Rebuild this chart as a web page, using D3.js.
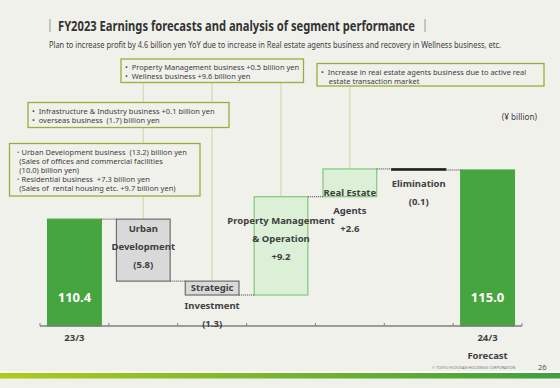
<!DOCTYPE html>
<html>
<head>
  <script src="https://d3js.org/d3.v7.min.js"></script>
  <style>
    html, body { margin: 0; padding: 0; background: #f1f1ec; }
    svg { display: block; font-family: "Noto Sans", sans-serif; }
    .lbl { font-weight: bold; fill: #404040; font-size: 9.5px; text-anchor: middle; }
    .note { fill: #404040; font-size: 7.5px; white-space: pre; }
  </style>
</head>
<body>
<script>
// ---- data ----
const steps = ["23/3", "Urban Development", "Strategic Investment", "Property Management & Operation",
               "Real Estate Agents", "Elimination", "24/3 Forecast"];
const kinds = ["total", "delta", "delta", "delta", "delta", "delta", "total"];
const values = [110.4, -5.8, -1.3, 9.2, 2.6, -0.1, 115.0];
const valueText = ["110.4", "(5.8)", "(1.3)", "+9.2", "+2.6", "(0.1)", "115.0"];
const stepLines = [
  [], ["Urban", "Development"], ["Strategic", "Investment"], ["Property Management", "& Operation"],
  ["Real Estate", "Agents"], ["Elimination"], []
];
const axisLabels = [["23/3"], [], [], [], [], [], ["24/3", "Forecast"]];

const notes = [
  {step: "Urban Development", lines: [
    "・Urban Development business  (13.2) billion yen",
    "   (Sales of offices and commercial facilities",
    "   (10.0) billion yen)",
    "・Residential business  +7.3 billion yen",
    "   (Sales of  rental housing etc. +9.7 billion yen)"]},
  {step: "Strategic Investment", lines: [
    "•  Infrastructure & Industry business +0.1 billion yen",
    "•  overseas business  (1.7) billion yen"]},
  {step: "Property Management & Operation", lines: [
    "•  Property Management business +0.5 billion yen",
    "•  Wellness business +9.6 billion yen"]},
  {step: "Real Estate Agents", lines: [
    "•  Increase in real estate agents business due to active real",
    "    estate transaction market"]}
];

const title = "FY2023 Earnings forecasts and analysis of segment performance";
const subtitle = "Plan to increase profit by 4.6 billion yen YoY due to increase in Real estate agents business and recovery in Wellness business, etc.";

// ---- setup ----
const width = 560, height = 388;
const svg = d3.select("body").append("svg").attr("width", width).attr("height", height);

const defs = svg.append("defs");
const grad = defs.append("linearGradient").attr("id", "strip");
grad.append("stop").attr("offset", "0%").attr("stop-color", "#aecb1c");
grad.append("stop").attr("offset", "100%").attr("stop-color", "#3f9f3f");

svg.append("rect").attr("width", width).attr("height", height).attr("fill", "#f1f1ec");

// title
svg.append("line").attr("x1", 50).attr("x2", 50).attr("y1", 19).attr("y2", 32).attr("stroke", "#999");
svg.append("line").attr("x1", 425).attr("x2", 425).attr("y1", 19).attr("y2", 32).attr("stroke", "#999");
svg.append("text").attr("x", 58).attr("y", 30.5).attr("font-size", 13.5).attr("font-weight", "bold")
  .attr("fill", "#333").attr("textLength", 357).attr("lengthAdjust", "spacingAndGlyphs").text(title);
svg.append("text").attr("x", 49).attr("y", 47.5).attr("font-size", 8.4).attr("fill", "#404040")
  .attr("textLength", 452).attr("lengthAdjust", "spacingAndGlyphs").text(subtitle);

// ---- scales ----
const x = d3.scaleBand().domain(steps).range([40, 522]).paddingInner(0.22).paddingOuter(0.11);
const y = d3.scaleLinear().domain([100.4, 115]).range([326, 170]);

// running totals
let run = 0;
const bars = steps.map((s, i) => {
  let lo, hi, start;
  if (kinds[i] === "total") { start = values[i]; run = values[i]; lo = y.domain()[0]; hi = values[i]; }
  else { start = run; run = run + values[i]; lo = Math.min(start, run); hi = Math.max(start, run); }
  return {step: s, kind: kinds[i], v: values[i], lo, hi, end: run, i};
});

function barFill(d) {
  if (d.kind === "total") return "#47a53f";
  if (d.step === "Elimination") return "#222";
  return d.v < 0 ? "#d9d9d9" : "#dbf0d7";
}
function barStroke(d) {
  if (d.kind === "total") return "#47a53f";
  if (d.step === "Elimination") return "#222";
  return d.v < 0 ? "#6e6e6e" : "#80c878";
}

// note connector lines
notes.forEach(n => {
  const b = bars.find(d => d.step === n.step);
  svg.append("line")
    .attr("x1", x(n.step) + x.bandwidth() / 2).attr("x2", x(n.step) + x.bandwidth() / 2)
    .attr("y1", 80).attr("y2", y(b.hi))
    .attr("stroke", "#d6d9ad").attr("stroke-width", 1.2);
});

// bars
svg.selectAll("rect.bar").data(bars).enter().append("rect")
  .attr("class", "bar")
  .attr("x", d => x(d.step))
  .attr("y", d => y(d.hi))
  .attr("width", x.bandwidth())
  .attr("height", d => Math.max(1, y(d.lo) - y(d.hi)))
  .attr("fill", barFill)
  .attr("stroke", barStroke)
  .attr("stroke-width", d => d.step === "Elimination" ? 1.6 : 1.2);

// dotted connectors
svg.selectAll("line.conn").data(bars.slice(0, -1)).enter().append("line")
  .attr("class", "conn")
  .attr("x1", d => x(d.step) + x.bandwidth())
  .attr("x2", d => x(steps[d.i + 1]))
  .attr("y1", d => y(d.end)).attr("y2", d => y(d.end))
  .attr("stroke", "#555").attr("stroke-width", 1).attr("stroke-dasharray", "1.2,0.8");

// axis
const axisG = svg.append("g").attr("transform", `translate(0,${y.range()[0]})`);
axisG.append("line").attr("x1", x.range()[0]).attr("x2", x.range()[1])
  .attr("stroke", "#7f7f7f").attr("stroke-width", 1.3);
const tickXs = steps.map(s => x(s) - x.step() * x.paddingInner() / 2).concat([x.range()[1]]);
axisG.selectAll("line.tick").data(tickXs).enter().append("line")
  .attr("x1", d => d).attr("x2", d => d).attr("y1", -3).attr("y2", 0)
  .attr("stroke", "#7f7f7f");
axisLabels.forEach((lines, i) => {
  lines.forEach((t, k) => {
    svg.append("text").attr("class", "lbl")
      .attr("x", x(steps[i]) + x.bandwidth() / 2)
      .attr("y", 341 + k * 18).text(t);
  });
});

// step labels (inside the chart)
const firstLineDy = [0, 13, 9.5, 27, 27, 18, 0];
bars.forEach(d => {
  const cx = x(d.step) + x.bandwidth() / 2;
  if (d.kind === "total") {
    svg.append("text").attr("x", cx).attr("y", y.range()[0] - 24)
      .attr("text-anchor", "middle").attr("font-size", 13).attr("font-weight", "bold")
      .attr("fill", "#fff").text(valueText[d.i]);
    return;
  }
  const lines = stepLines[d.i].concat([valueText[d.i]]);
  lines.forEach((t, k) => {
    svg.append("text").attr("class", "lbl")
      .attr("x", cx).attr("y", y(d.hi) + firstLineDy[d.i] + k * 18).text(t);
  });
});

// note boxes
const boxes = [
  {x: 9.5, y: 143.5, w: 190.5, h: 52.5},
  {x: 28, y: 102.5, w: 201, h: 25},
  {x: 121, y: 59, w: 182.5, h: 23.5},
  {x: 317, y: 63.5, w: 227, h: 22.5}
];
notes.forEach((n, i) => {
  const b = boxes[i];
  svg.append("rect").attr("x", b.x).attr("y", b.y).attr("width", b.w).attr("height", b.h)
    .attr("fill", "#f1f1ec").attr("stroke", "#94b13c").attr("stroke-width", 1.3);
  n.lines.forEach((t, k) => {
    svg.append("text").attr("class", "note")
      .attr("x", b.x + 4).attr("y", b.y + 11 + k * 9).text(t);
  });
});

svg.append("text").attr("x", 537).attr("y", 119.5).attr("text-anchor", "end")
  .attr("font-size", 8.2).attr("fill", "#404040").text("(¥ billion)");

// footer
svg.append("text").attr("x", 432).attr("y", 368.5).attr("font-size", 3.8).attr("fill", "#777")
  .text("© TOKYU FUDOSAN HOLDINGS CORPORATION");
svg.append("text").attr("x", 538).attr("y", 369.5).attr("font-size", 7.5).attr("fill", "#555").text("26");
svg.append("rect").attr("x", 0).attr("y", 371.5).attr("width", width).attr("height", 1.2).attr("fill", "#fff");
svg.append("rect").attr("x", 0).attr("y", 373).attr("width", width).attr("height", 5.5).attr("fill", "url(#strip)");
</script>
</body>
</html>
